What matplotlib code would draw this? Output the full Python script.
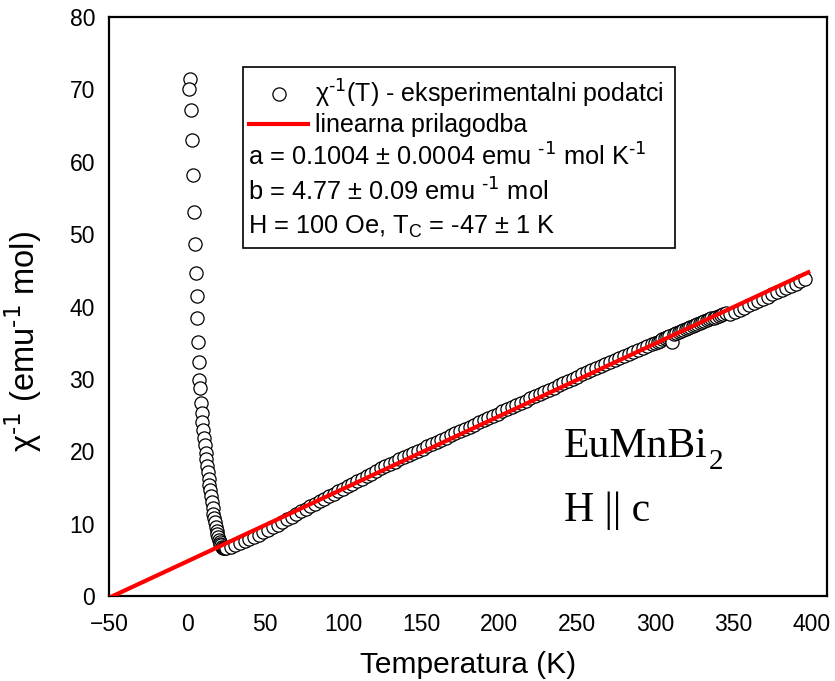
import matplotlib
matplotlib.use("Agg")
import matplotlib.pyplot as plt
from matplotlib.patches import Rectangle
import numpy as np

plt.rcParams['font.family'] = ['Liberation Sans', 'DejaVu Sans']
plt.rcParams['mathtext.default'] = 'regular'

T_low = [1.9, 1.5, 2.4, 3.0, 3.7, 4.5, 5.1, 5.8, 6.2, 6.6, 7.1, 7.5, 7.9,
         8.3, 8.8, 9.4, 9.9, 10.4, 10.9, 11.4, 11.9, 12.4, 12.9, 13.4, 13.9,
         14.4, 14.9, 15.4, 15.9, 16.4, 16.9, 17.4, 17.9, 18.4, 18.9, 19.4,
         19.9, 20.4, 20.9, 21.4, 21.9, 22.4, 22.9, 23.5, 24.2]
chi_low = [71.4, 70.0, 67.1, 63.0, 58.2, 53.1, 48.7, 44.6, 41.4, 38.4, 35.1,
           32.4, 29.8, 28.7, 26.6, 25.3, 24.1, 23.0, 21.9, 20.8, 19.8, 18.9,
           18.0, 17.1, 16.2, 15.4, 14.6, 13.8, 13.0, 12.2, 11.4, 10.8, 10.2,
           9.6, 9.0, 8.6, 8.2, 7.8, 7.5, 7.2, 7.0, 6.8, 6.7, 6.6, 6.6]

T_high = [25, 28, 31, 34, 37, 40, 43, 46, 49, 52, 55, 58, 61, 64, 67, 70,
          73, 76, 79, 82, 85, 88, 91, 94, 97, 100, 103, 106, 109, 112, 115,
          118, 121, 124, 127, 130, 133, 136, 139, 142, 145, 148, 151, 154,
          157, 160, 163, 166, 169, 172, 175, 178, 181, 184, 187, 190, 193,
          196, 199, 202, 205, 208, 211, 214, 217, 220, 223, 226, 229, 232,
          235, 238, 241, 244, 247, 250, 253, 256, 259, 262, 265, 268, 271,
          274, 277, 280, 283, 286, 289, 292, 295, 298,
          300, 301.5, 303, 304.5, 306, 307.5, 309, 310.7, 312, 313.5, 315,
          316.5, 318, 319.5, 321, 322.5, 324, 325.5, 327, 328.5, 330, 331.5,
          333, 334.5, 336, 337.5, 339, 340.5, 342, 343.5, 345,
          348, 351, 354, 357, 360, 363, 366, 369, 372, 375, 378, 381, 384,
          387, 390, 393, 396]
chi_high = [6.68, 6.83, 7.03, 7.28, 7.58, 7.89, 8.19, 8.49, 8.84, 9.19, 9.49,
            9.84, 10.19, 10.60, 10.95, 11.35, 11.70, 12.05, 12.40, 12.75,
            13.10, 13.46, 13.81, 14.16, 14.51, 14.81, 15.16, 15.51, 15.86,
            16.21, 16.57, 16.92, 17.27, 17.62, 17.97, 18.27, 18.57, 18.87,
            19.18, 19.48, 19.78, 20.08, 20.38, 20.68, 20.98, 21.28, 21.59,
            21.89, 22.19, 22.49, 22.79, 23.09, 23.39, 23.69, 23.99, 24.30,
            24.60, 24.90, 25.20, 25.50, 25.80, 26.10, 26.40, 26.71, 27.01,
            27.31, 27.61, 27.91, 28.21, 28.51, 28.81, 29.12, 29.42, 29.72,
            30.02, 30.32, 30.62, 30.92, 31.22, 31.48, 31.78, 32.03, 32.28,
            32.58, 32.83, 33.13, 33.38, 33.68, 33.94, 34.24, 34.49, 34.79,
            35.00, 35.15, 35.30, 35.45, 35.60, 35.75, 35.90, 35.10, 36.20,
            36.35, 36.50, 36.65, 36.78, 36.92, 37.05, 37.18, 37.32, 37.45,
            37.58, 37.72, 37.85, 37.98, 38.10, 38.22, 38.35, 38.48, 38.60,
            38.72, 38.85, 38.98, 39.10,
            39.00, 39.28, 39.56, 39.86, 40.16, 40.47, 40.77, 41.07, 41.37,
            41.67, 41.97, 42.27, 42.57, 42.88, 43.18, 43.48, 43.85]

# linear fit chi^-1 = a*T + b
a_fit = 0.1004
b_fit = 4.77
T_fit = np.array([-50, 398])

fig = plt.figure(figsize=(8.35, 6.81), dpi=100)
ax = fig.add_axes([0.1305, 0.1248, 0.8599, 0.8502])

data_line, = ax.plot(T_low + T_high, chi_low + chi_high, 'o', mfc='white',
                     mec='black', ms=9.5, mew=0.9, zorder=2,
                     label=r'χ$^{\text{-1}}$(T) - eksperimentalni podatci')
fit_line, = ax.plot(T_fit, a_fit * T_fit + b_fit, color='red', lw=3, zorder=3,
                    label='linearna prilagodba')

ax.set_xlim(-50, 410)
ax.set_ylim(0, 80)
ax.set_xticks(np.arange(-50, 401, 50))
ax.set_yticks(np.arange(0, 81, 10))
ax.tick_params(length=0, labelsize=16.5)
ax.tick_params(axis='x', pad=12)
ax.tick_params(axis='y', pad=10)
for s in ax.spines.values():
    s.set_linewidth(1.6)

ax.set_xlabel('Temperatura (K)', fontsize=21.5)
ax.xaxis.set_label_coords(0.5, -0.095)
ax.set_ylabel(r'χ$^{\text{-1}}$ (emu$^{\text{-1}}$ mol)', fontsize=23.5)
ax.yaxis.set_label_coords(-0.09, 0.44)

# legend frame with the fit parameters
ax.add_patch(Rectangle((0.1866, 0.601), 0.6014, 0.3126, transform=ax.transAxes,
                       fill=False, edgecolor='black', lw=1.2, zorder=4))
ax.legend(handles=[data_line, fit_line], loc='upper left',
          bbox_to_anchor=(0.1866, 0.905), frameon=False, fontsize=18,
          handlelength=2.35, handletextpad=0.3, borderpad=0.25,
          labelspacing=0.12, borderaxespad=0)
txt = [r'a = 0.1004 ± 0.0004 emu $^{\text{-1}}$ mol K$^{\text{-1}}$',
       r'b = 4.77 ± 0.09 emu $^{\text{-1}}$ mol',
       r'H = 100 Oe, T$_C$ = -47 ± 1 K']
for i, s in enumerate(txt):
    ax.text(0.1935, 0.7582 - i * 0.0605, s, transform=ax.transAxes,
            fontsize=18.3, va='center', ha='left')

comp = ax.text(0.634, 0.2395, 'EuMnBi', transform=ax.transAxes,
               fontsize=30, family='Liberation Serif')
ax.annotate('2', xy=(1, 0), xycoords=comp, xytext=(0.5, -6.5),
            textcoords='offset points', va='bottom', ha='left',
            fontsize=21, family='Liberation Serif')
ax.text(0.634, 0.129, 'H || c', transform=ax.transAxes,
        fontsize=30, family='Liberation Serif')

fig.savefig('out.png', dpi=100)
